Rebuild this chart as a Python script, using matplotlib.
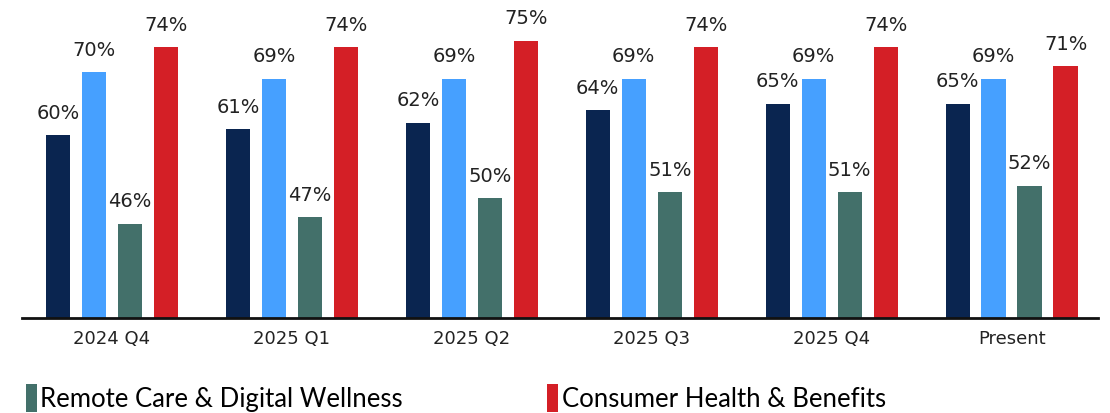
import matplotlib.pyplot as plt
import numpy as np

# Data
periods = ["2024 Q4", "2025 Q1", "2025 Q2", "2025 Q3", "2025 Q4", "Present"]
series_a = [60, 61, 62, 64, 65, 65]   # navy
series_b = [70, 69, 69, 69, 69, 69]   # light blue
remote_care = [46, 47, 50, 51, 51, 52]
consumer_health = [74, 74, 75, 74, 74, 71]

names = ["Series A", "Series B", "Remote Care & Digital Wellness", "Consumer Health & Benefits"]
colors = ["#0A2550", "#46A0FF", "#43706A", "#D41F26"]
values = [series_a, series_b, remote_care, consumer_health]

fig = plt.figure(figsize=(11.1, 4.13), dpi=100)
ax = fig.add_axes([22/1110, 95/413, 1076/1110, 318/413])

x = np.arange(len(periods))
width = 0.135
offsets = [-0.3, -0.1, 0.1, 0.3]

bars = []
for vals, off, col, name in zip(values, offsets, colors, names):
    b = ax.bar(x + off, vals, width, color=col, label=name)
    bars.append(b)
    for rect, v in zip(b, vals):
        ax.annotate(f"{v}%", (rect.get_x() + rect.get_width()/2, v),
                    xytext=(0, 9), textcoords="offset points",
                    ha="center", va="bottom", fontsize=14,
                    family="DejaVu Sans", color="#222222")

ax.set_ylim(31, 81.5)
ax.set_xlim(-0.5, 5.48)
ax.set_xticks(x)
ax.set_xticklabels(periods, family="DejaVu Sans", fontsize=13, color="#222222")
ax.tick_params(axis="x", length=0, pad=9)
ax.set_yticks([])
for s in ["top", "right", "left"]:
    ax.spines[s].set_visible(False)
ax.spines["bottom"].set_linewidth(2)
ax.spines["bottom"].set_color("#111111")

# Legend (only the bottom row is visible)
leg = fig.legend(handles=[bars[2], bars[3]], ncol=2, loc="lower left",
                 bbox_to_anchor=(0.007, -0.042), frameon=False,
                 prop={"family": "Lato", "size": 18.5},
                 handlelength=0.42, handleheight=1.3, handletextpad=0.15,
                 borderpad=0.2, columnspacing=5.6)

fig.savefig("out.png", dpi=100)
